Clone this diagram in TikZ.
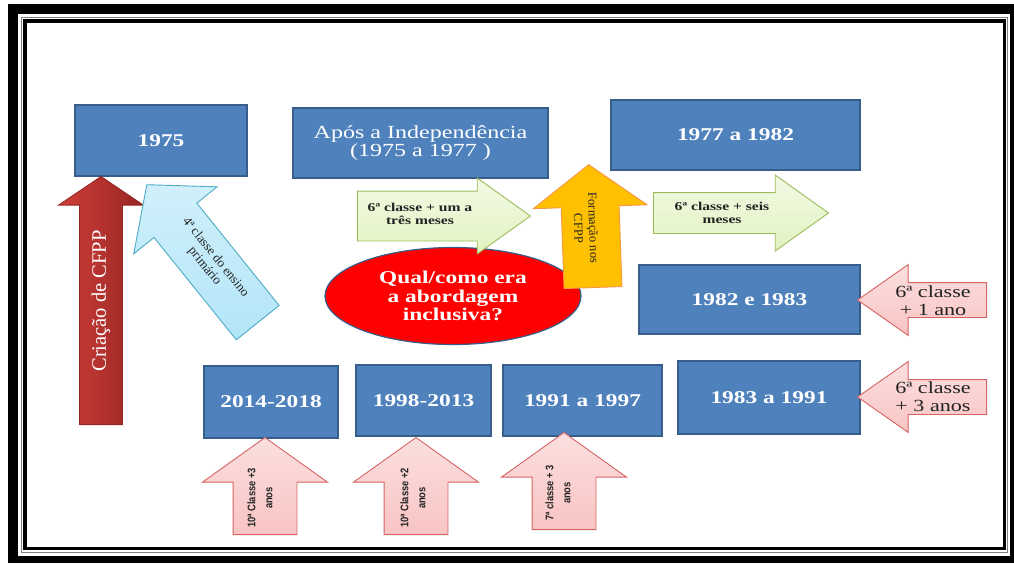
\documentclass[tikz,border=0pt]{standalone}
\usepackage{fontspec}
\setmainfont{Liberation Serif}
\newfontfamily\wideserif{Liberation Serif}[FakeStretch=1.3]
\newfontfamily\narrowsans{Liberation Sans}[FakeStretch=0.85]
\usepackage{tikz}
\usetikzlibrary{shapes.geometric, shapes.arrows, positioning}
\definecolor{BoxBlue}{RGB}{79, 129, 189}
\definecolor{BoxEdge}{RGB}{56, 93, 138}
\definecolor{ArrRed}{RGB}{208, 62, 56}
\definecolor{ArrRedDark}{RGB}{150, 38, 36}
\definecolor{SkyFill}{RGB}{178, 229, 248}
\definecolor{SkyEdge}{RGB}{75, 172, 198}
\definecolor{LimeFill}{RGB}{226, 243, 194}
\definecolor{LimeEdge}{RGB}{155, 187, 89}
\definecolor{AmberFill}{RGB}{255, 192, 0}
\definecolor{AmberEdge}{RGB}{247, 150, 70}
\definecolor{RoseFill}{RGB}{249, 196, 196}
\definecolor{RoseEdge}{RGB}{214, 100, 98}
\definecolor{QuestRed}{RGB}{255, 0, 0}
\definecolor{TextDark}{RGB}{35, 35, 35}

\begin{document}
\begin{tikzpicture}[x=1pt,y=-1pt,
  yearbox/.style={draw=BoxEdge, fill=BoxBlue, line width=1.3pt, text=white, align=center,
                  inner sep=0pt, font=\wideserif\bfseries\fontsize{18}{19}\selectfont},
  blockarrow/.style={single arrow, anchor=tail, inner xsep=0pt, line width=0.9pt},
  arrowtext/.style={align=center, inner sep=0pt, text=TextDark},
  rosearrow/.style={blockarrow, draw=RoseEdge, top color=RoseFill!55!white, bottom color=RoseFill},
  limearrow/.style={blockarrow, draw=LimeEdge, top color=LimeFill!45!white, bottom color=LimeFill}]
  \path[use as bounding box] (0,0) rectangle (1014,563);

  % frame
  \fill[black] (8,4) rectangle (1014,563);
  \fill[white] (18,14) rectangle (1010,556);
  \draw[gray, line width=1pt] (21.5,17.5) rectangle (1007.5,552.5);
  \draw[black, line width=3.5pt] (25,21) rectangle (1004.5,548.5);

  % year boxes
  \node[yearbox, minimum width=172, minimum height=71] (y1975) at (161,140.5) {1975};
  \node[yearbox, minimum width=255, minimum height=70, font=\wideserif\fontsize{18.5}{18.5}\selectfont]
    (yIndep) at (420.5,143) {Após a Independência\\(1975 a 1977 )};
  \node[yearbox, minimum width=249, minimum height=70] (y7782) at (735.5,135) {1977 a 1982};
  \node[yearbox, minimum width=221, minimum height=69] (y8283) at (749.5,299.5) {1982 e 1983};
  \node[yearbox, minimum width=182, minimum height=73] (y8391) at (769,397.5) {1983 a 1991};
  \node[yearbox, minimum width=159, minimum height=71] (y9197) at (582.5,400.5) {1991 a 1997};
  \node[yearbox, minimum width=135, minimum height=71] (y9813) at (423.5,400.5) {1998-2013};
  \node[yearbox, minimum width=134, minimum height=72] (y1418) at (271,402) {2014-2018};

  % question
  \node[ellipse, draw=BoxEdge, line width=1.2pt, fill=QuestRed, minimum width=256, minimum height=97,
        inner sep=0pt, text=white, align=center, font=\wideserif\bfseries\fontsize{18}{18.5}\selectfont]
    (quest) at (453,296) {Qual/como era\\a abordagem\\inclusiva?};

  % Criacao de CFPP
  \node[blockarrow, rotate=90, draw=ArrRedDark, left color=ArrRed, right color=ArrRedDark,
        inner ysep=21, minimum height=248, single arrow head extend=21, single arrow tip angle=112]
    (crArrow) at (101,425) {};
  \node[arrowtext, rotate=90, text=white, font=\fontsize{20.5}{22}\selectfont]
    (crText) at (101,301) {Criação de CFPP};

  % 4a classe
  \node[blockarrow, rotate=128.8, draw=SkyEdge, top color=SkyFill!60!white, bottom color=SkyFill,
        inner ysep=27, minimum height=177, single arrow head extend=26, single arrow tip angle=99]
    (prArrow) at (258,323) {};
  \node[arrowtext, rotate=-51.2, font=\fontsize{13}{14}\selectfont]
    (prText) at (210,262) {4ª classe do ensino\\primário};

  % 6a classe + um a tres meses
  \node[limearrow, inner ysep=24.5, minimum height=173, single arrow head extend=13,
        single arrow tip angle=71] (umArrow) at (357,216) {};
  \node[arrowtext, font=\wideserif\bfseries\fontsize{12}{13}\selectfont]
    (umText) at (420,214) {6ª classe + um a\\três meses};

  % Formacao nos CFPP
  \node[blockarrow, rotate=92, draw=AmberEdge, fill=AmberFill,
        inner ysep=28.5, minimum height=123, single arrow head extend=28, single arrow tip angle=107]
    (foArrow) at (593,288) {};
  \node[arrowtext, rotate=-88, font=\fontsize{12.5}{15}\selectfont]
    (foText) at (586,228) {Formação nos\\CFPP};

  % 6a classe + seis meses
  \node[limearrow, inner ysep=20, minimum height=175, single arrow head extend=17.5,
        single arrow tip angle=71] (seArrow) at (653,213) {};
  \node[arrowtext, font=\wideserif\bfseries\fontsize{12}{13}\selectfont]
    (seText) at (722,213) {6ª classe + seis\\meses};

  % 6a classe + 1 ano / + 3 anos
  \node[rosearrow, rotate=180, inner ysep=17, minimum height=129, single arrow head extend=18,
        single arrow tip angle=70] (anoArrow) at (987,300) {};
  \node[arrowtext, font=\wideserif\fontsize{17}{18}\selectfont]
    (anoText) at (933,301) {6ª classe\\+ 1 ano};
  \node[rosearrow, rotate=180, inner ysep=17, minimum height=129, single arrow head extend=18,
        single arrow tip angle=70] (anosArrow) at (987,397) {};
  \node[arrowtext, font=\wideserif\fontsize{17}{18}\selectfont]
    (anosText) at (933,397) {6ª classe\\+ 3 anos};

  % bottom arrows
  \node[rosearrow, rotate=90, inner ysep=31.5, minimum height=97, single arrow head extend=30.5,
        single arrow tip angle=109] (c3Arrow) at (265,535) {};
  \node[arrowtext, rotate=90, font=\narrowsans\bfseries\fontsize{11}{17}\selectfont]
    (c3Text) at (260,498) {10ª Classe +3\\anos};
  \node[rosearrow, rotate=90, inner ysep=31.5, minimum height=97, single arrow head extend=30.5,
        single arrow tip angle=109] (c2Arrow) at (416,535) {};
  \node[arrowtext, rotate=90, font=\narrowsans\bfseries\fontsize{11}{17}\selectfont]
    (c2Text) at (413,498) {10ª Classe +2\\anos};
  \node[rosearrow, rotate=90, inner ysep=31.5, minimum height=97, single arrow head extend=30.5,
        single arrow tip angle=109] (s3Arrow) at (564,530) {};
  \node[arrowtext, rotate=90, font=\narrowsans\bfseries\fontsize{11}{17}\selectfont]
    (s3Text) at (558,493) {7ª classe + 3\\anos};
\end{tikzpicture}
\end{document}
